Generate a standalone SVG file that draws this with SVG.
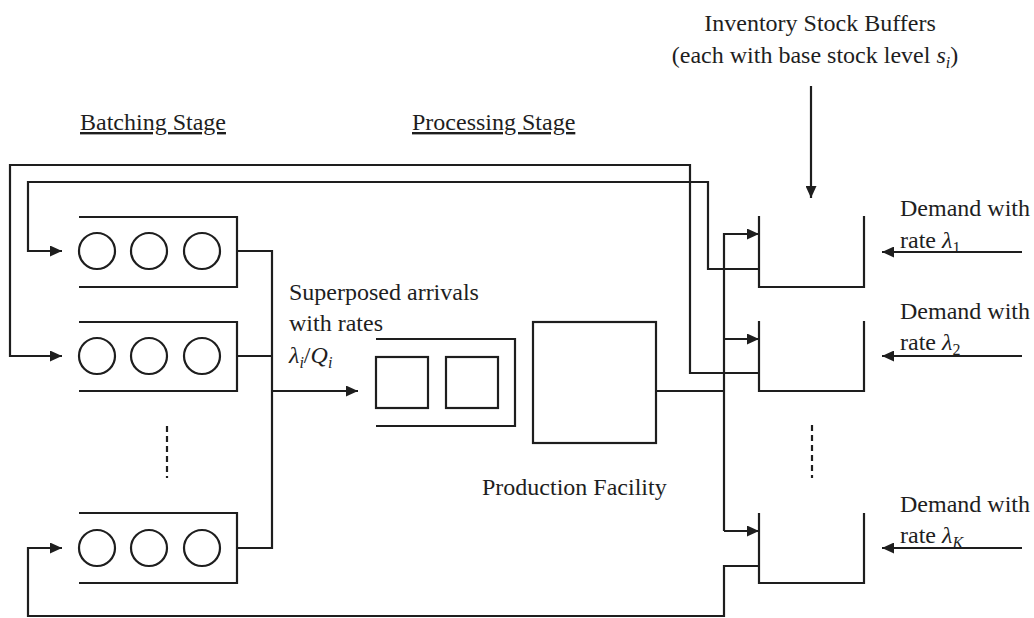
<svg xmlns="http://www.w3.org/2000/svg" width="1034" height="618" viewBox="0 0 1034 618">
<style>
.ln{fill:none;stroke:#1e1e1e;stroke-width:2.2;stroke-linejoin:miter;stroke-linecap:butt}
.t{font-family:"Liberation Serif","Times New Roman",serif;font-size:24px;fill:#1e1e1e}
.u{text-decoration:underline}
.it{font-style:italic}
.sub{font-size:16px}
.dash{fill:none;stroke:#1e1e1e;stroke-width:2.2;stroke-dasharray:6 4}
</style>
<defs>
<marker id="ah" markerUnits="userSpaceOnUse" markerWidth="13" markerHeight="11" refX="12" refY="5.5" orient="auto">
<path d="M0,0 L12,5.5 L0,11 z" fill="#1e1e1e"/>
</marker>
</defs>
<rect width="1034" height="618" fill="#fff"/>

<g id="labels">
<text class="t u" x="80" y="130">Batching Stage</text>
<text class="t u" x="412" y="130">Processing Stage</text>
<text class="t" x="820" y="31" text-anchor="middle">Inventory Stock Buffers</text>
<text class="t" x="815" y="63" text-anchor="middle">(each with base stock level <tspan class="it">s</tspan><tspan class="it sub" dy="5">i</tspan><tspan dy="-5">)</tspan></text>
</g>

<g id="batch1">
<path class="ln" d="M79,217 H237 V287 H79"/>
<circle class="ln" cx="97" cy="251" r="18"/>
<circle class="ln" cx="149" cy="251" r="18"/>
<circle class="ln" cx="202" cy="251" r="18"/>
</g>
<g id="batch2">
<path class="ln" d="M79,322 H237 V391 H79"/>
<circle class="ln" cx="97" cy="356" r="18"/>
<circle class="ln" cx="149" cy="356" r="18"/>
<circle class="ln" cx="202" cy="356" r="18"/>
</g>
<g id="batchK">
<path class="ln" d="M79,513 H237 V583 H79"/>
<circle class="ln" cx="97" cy="548" r="18"/>
<circle class="ln" cx="149" cy="548" r="18"/>
<circle class="ln" cx="202" cy="548" r="18"/>
</g>
<g id="batchDots">
<line class="dash" x1="167" y1="426" x2="167" y2="478"/>
</g>

<g id="superposed">
<text class="t" x="289" y="300">Superposed arrivals</text>
<text class="t" x="289" y="331">with rates</text>
<text class="t" x="289" y="363"><tspan class="it">λ</tspan><tspan class="it sub" dy="5">i</tspan><tspan dy="-5">/</tspan><tspan class="it">Q</tspan><tspan class="it sub" dy="5">i</tspan></text>
</g>

<g id="procQueue">
<path class="ln" d="M376,339 H515 V426 H376"/>
<rect class="ln" x="376" y="357" width="52" height="51"/>
<rect class="ln" x="446" y="357" width="52" height="51"/>
</g>

<g id="facility">
<rect class="ln" x="533" y="322" width="123" height="121"/>
<text class="t" x="482" y="495">Production Facility</text>
</g>

<g id="buffer1">
<path class="ln" d="M759,216 V287 H864 V216"/>
</g>
<g id="buffer2">
<path class="ln" d="M759,321 V391 H864 V321"/>
</g>
<g id="bufferK">
<path class="ln" d="M759,513 V583 H864 V513"/>
</g>
<g id="bufferDots">
<line class="dash" x1="812" y1="425" x2="812" y2="478"/>
</g>

<g id="demand1">
<text class="t" x="900" y="216">Demand with</text>
<text class="t" x="900" y="248">rate <tspan class="it">λ</tspan><tspan class="sub" dy="5">1</tspan></text>
</g>
<g id="demand2">
<text class="t" x="900" y="319">Demand with</text>
<text class="t" x="900" y="350">rate <tspan class="it">λ</tspan><tspan class="sub" dy="5">2</tspan></text>
</g>
<g id="demandK">
<text class="t" x="900" y="512">Demand with</text>
<text class="t" x="900" y="543">rate <tspan class="it">λ</tspan><tspan class="it sub" dy="5">K</tspan></text>
</g>

<g id="connectors">
<!-- batch outputs merge -->
<path class="ln" d="M237,251 H272 V548 H237"/>
<path class="ln" d="M237,356 H272"/>
<path class="ln" d="M272,391 H358" marker-end="url(#ah)"/>
<!-- facility output to buffers -->
<path class="ln" d="M656,391 H724"/>
<path class="ln" d="M724,531 V234 H759" marker-end="url(#ah)"/>
<path class="ln" d="M724,339 H759" marker-end="url(#ah)"/>
<path class="ln" d="M724,531 H759" marker-end="url(#ah)"/>
<!-- feedback loops -->
<path class="ln" d="M759,269 H708 V182 H28 V251 H62" marker-end="url(#ah)"/>
<path class="ln" d="M759,373 H690 V165 H10 V356 H62" marker-end="url(#ah)"/>
<path class="ln" d="M759,566 H724 V616 H28 V548 H62" marker-end="url(#ah)"/>
<!-- inventory label arrow -->
<path class="ln" d="M811,86 V198" marker-end="url(#ah)"/>
<!-- demand arrows -->
<path class="ln" d="M1022,252 H882" marker-end="url(#ah)"/>
<path class="ln" d="M1022,356 H882" marker-end="url(#ah)"/>
<path class="ln" d="M1022,548 H882" marker-end="url(#ah)"/>
</g>
</svg>
